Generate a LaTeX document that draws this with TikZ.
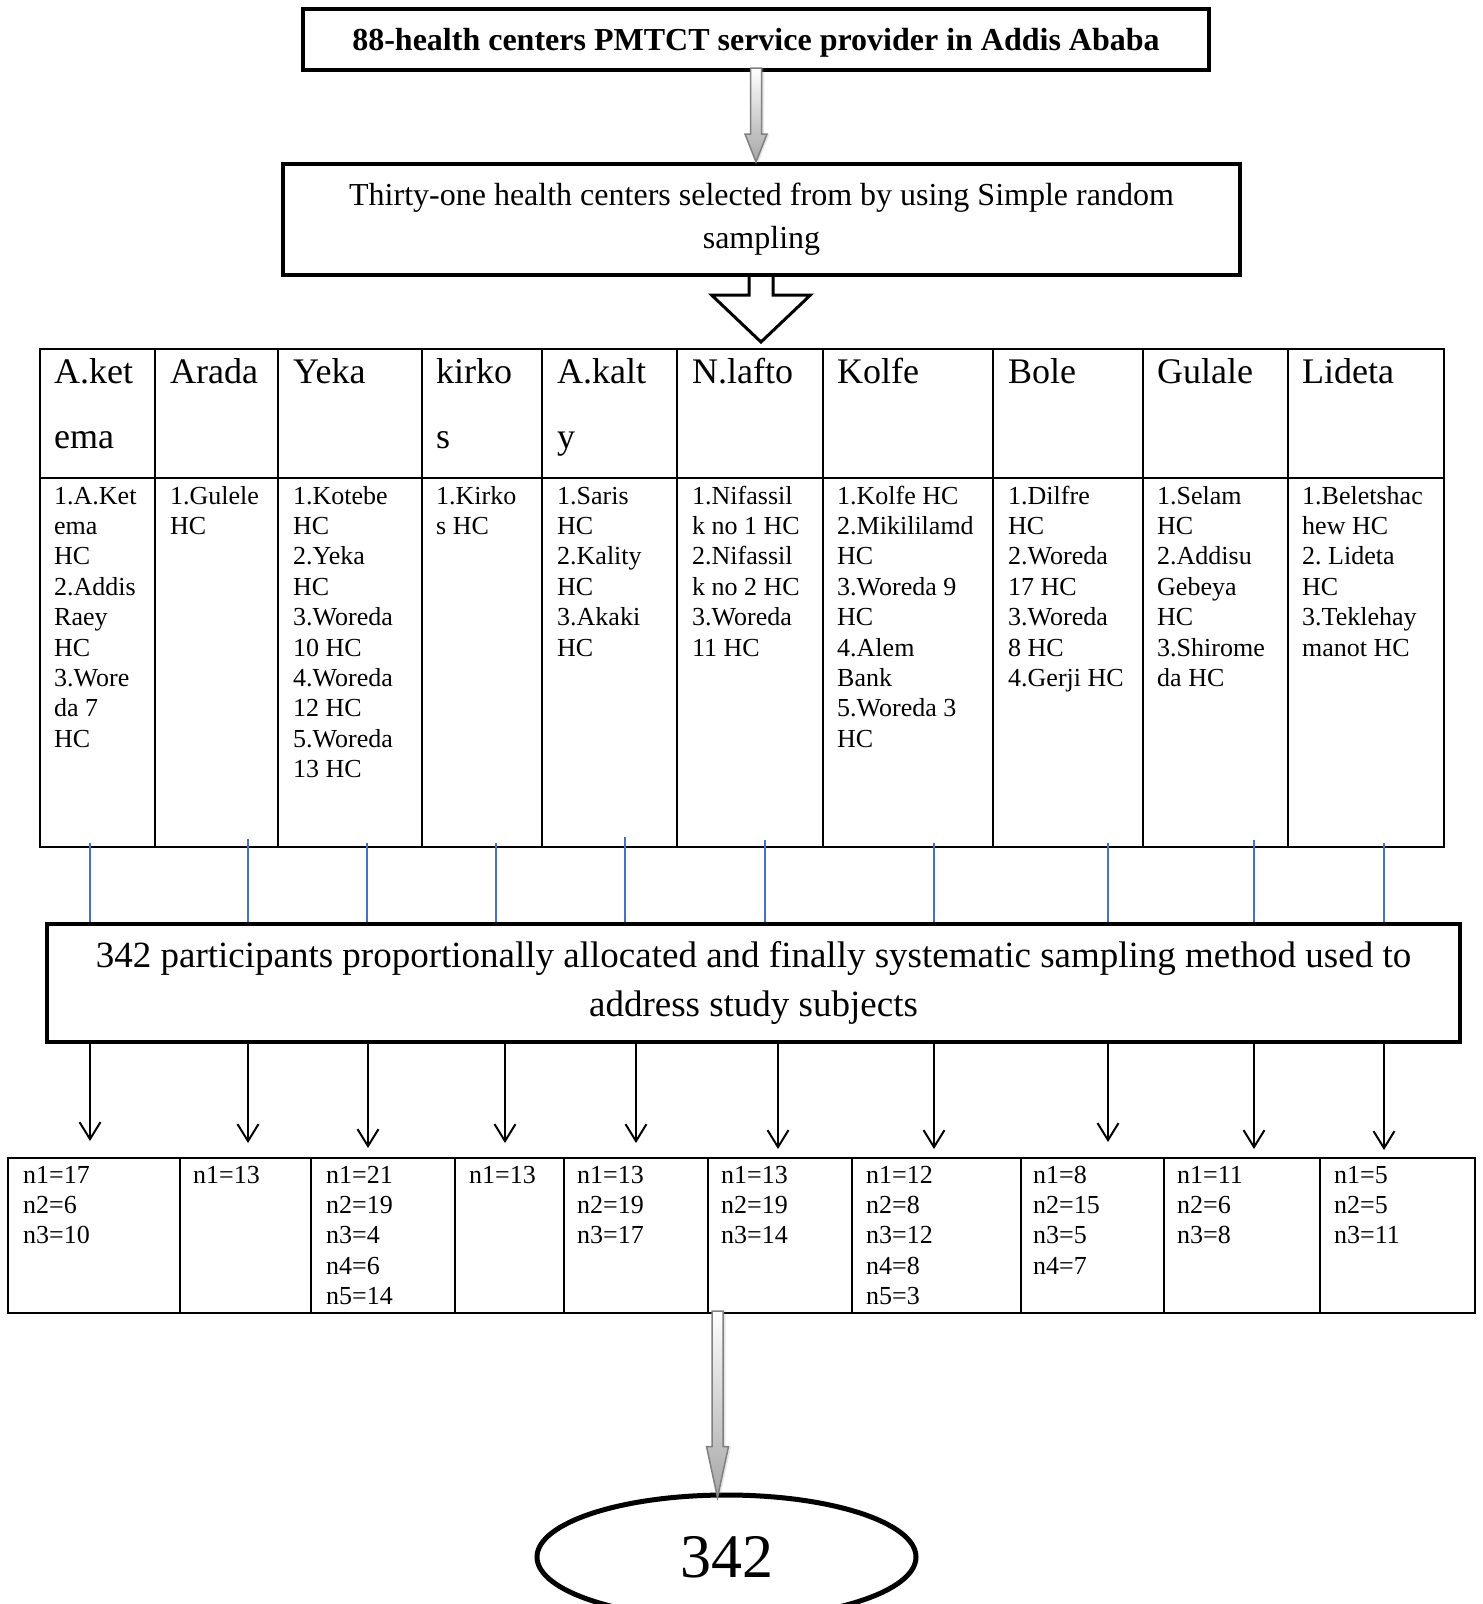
\documentclass[tikz,border=0pt]{standalone}
\usepackage{fontspec}
\setmainfont{Liberation Serif}
\frenchspacing
\usetikzlibrary{calc, arrows.meta, shapes.geometric, shadows}
\definecolor{tickblue}{RGB}{68,114,196}
\tikzstyle{stagebox} = [draw, rectangle, line width=4pt, inner sep=0pt, align=flush center]
\tikzstyle{tabline} = [line width=2pt]
\tikzstyle{arrow} = [line width=2pt, -{Straight Barb[length=17pt,width=21pt]}]
\tikzstyle{blueline} = [line width=1.5pt, draw=tickblue]
\tikzstyle{grayarrow} = [draw=gray, line width=1.5pt, top color=white, bottom color=gray!70, drop shadow={shadow xshift=2.5pt, shadow yshift=0pt, opacity=0.2}]
\tikzstyle{blockarrow} = [draw, line width=3pt, fill=white, line join=miter]
\tikzstyle{hdr} = [anchor=base west, inner sep=0pt, text width=160pt, align=flush left, font=\fontsize{36}{65}\selectfont]
\tikzstyle{hclist} = [anchor=base west, inner sep=0pt, text width=160pt, align=flush left, font=\fontsize{26}{30.4}\selectfont]

\begin{document}
\begin{tikzpicture}[x=1pt, y=-1pt]
    \useasboundingbox (0,0) rectangle (1483,1604);

    % Boxes
    \node[stagebox, font=\bfseries\fontsize{32}{38}\selectfont, text depth=0pt, minimum width=906pt, minimum height=61pt] (pool) at (756,39.5) {88-health centers PMTCT service provider in Addis Ababa};
    \node[stagebox, font=\fontsize{32}{43}\selectfont, text width=900pt, minimum width=957pt, minimum height=111pt] (srs) at (761.5,219.5) {Thirty-one health centers selected from by using Simple random\\ sampling};
    \node[stagebox, line width=4.5pt, font=\fontsize{37}{49}\selectfont, text width=1380pt, minimum width=1413pt, minimum height=118pt] (alloc) at (753.5,983) {342 participants proportionally allocated and finally systematic sampling method used to\\ address study subjects};
    \node[draw, ellipse, line width=5pt, inner sep=0pt, minimum width=379pt, minimum height=124pt, font=\fontsize{62}{62}\selectfont] (total) at (726.5,1557) {342};

    % Sub-cities table
    \draw[tabline] (40,349) rectangle (1444,847);
    \draw[tabline] (40,478) -- (1444,478);
    \draw[tabline] (155,349) -- (155,847) (278,349) -- (278,847) (422,349) -- (422,847)
        (542,349) -- (542,847) (677,349) -- (677,847) (823,349) -- (823,847)
        (993,349) -- (993,847) (1143,349) -- (1143,847) (1288,349) -- (1288,847);

    \node[hdr] (hd1) at (54,383) {A.ket\\ema};
    \node[hdr] (hd2) at (170,383) {Arada};
    \node[hdr] (hd3) at (293,383) {Yeka};
    \node[hdr] (hd4) at (436,383) {kirko\\s};
    \node[hdr] (hd5) at (557,383) {A.kalt\\y};
    \node[hdr] (hd6) at (692,383) {N.lafto};
    \node[hdr] (hd7) at (837,383) {Kolfe};
    \node[hdr] (hd8) at (1008,383) {Bole};
    \node[hdr] (hd9) at (1157,383) {Gulale};
    \node[hdr] (hd10) at (1302,383) {Lideta};

    \node[hclist] (hc1) at (54,504) {1.A.Ket\\ema\\HC\\2.Addis\\Raey\\HC\\3.Wore\\da 7\\HC};
    \node[hclist] (hc2) at (170,504) {1.Gulele\\HC};
    \node[hclist] (hc3) at (293,504) {1.Kotebe\\HC\\2.Yeka\\HC\\3.Woreda\\10 HC\\4.Woreda\\12 HC\\5.Woreda\\13 HC};
    \node[hclist] (hc4) at (436,504) {1.Kirko\\s HC};
    \node[hclist] (hc5) at (557,504) {1.Saris\\HC\\2.Kality\\HC\\3.Akaki\\HC};
    \node[hclist] (hc6) at (692,504) {1.Nifassil\\k no 1 HC\\2.Nifassil\\k no 2 HC\\3.Woreda\\11 HC};
    \node[hclist] (hc7) at (837,504) {1.Kolfe HC\\2.Mikililamd\\HC\\3.Woreda 9\\HC\\4.Alem\\Bank\\5.Woreda 3\\HC};
    \node[hclist] (hc8) at (1008,504) {1.Dilfre\\HC\\2.Woreda\\17 HC\\3.Woreda\\8 HC\\4.Gerji HC};
    \node[hclist] (hc9) at (1157,504) {1.Selam\\HC\\2.Addisu\\Gebeya\\HC\\3.Shirome\\da HC};
    \node[hclist] (hc10) at (1302,504) {1.Beletshac\\hew HC\\2. Lideta\\HC\\3.Teklehay\\manot HC};

    % Sample size table
    \draw[tabline] (8,1158) rectangle (1475,1313);
    \draw[tabline] (180,1158) -- (180,1313) (311,1158) -- (311,1313) (455,1158) -- (455,1313)
        (564,1158) -- (564,1313) (708,1158) -- (708,1313) (852,1158) -- (852,1313)
        (1021,1158) -- (1021,1313) (1164,1158) -- (1164,1313) (1320,1158) -- (1320,1313);

    \node[hclist] (nn1) at (23,1183) {n1=17\\n2=6\\n3=10};
    \node[hclist] (nn2) at (193,1183) {n1=13};
    \node[hclist] (nn3) at (326,1183) {n1=21\\n2=19\\n3=4\\n4=6\\n5=14};
    \node[hclist] (nn4) at (469,1183) {n1=13};
    \node[hclist] (nn5) at (577,1183) {n1=13\\n2=19\\n3=17};
    \node[hclist] (nn6) at (721,1183) {n1=13\\n2=19\\n3=14};
    \node[hclist] (nn7) at (866,1183) {n1=12\\n2=8\\n3=12\\n4=8\\n5=3};
    \node[hclist] (nn8) at (1033,1183) {n1=8\\n2=15\\n3=5\\n4=7};
    \node[hclist] (nn9) at (1177,1183) {n1=11\\n2=6\\n3=8};
    \node[hclist] (nn10) at (1334,1183) {n1=5\\n2=5\\n3=11};

    % Edges
    \draw[grayarrow] ($(pool.south)+(-5.5,-4)$) -- ($(pool.south |- srs.north)+(-5.5,-28)$) -- ++(-5.5,0)
        -- (pool.south |- srs.north) -- ++(11,-28) -- ++(-5.5,0) -- ($(pool.south)+(5.5,-4)$) -- cycle;

    \coordinate (htip) at (761,342);
    \draw[blockarrow] ($(srs.south -| htip)+(-12,0)$) -- ($(htip)+(-12,-47)$) -- ++(-37.5,0) -- (htip)
        -- ++(49.5,-47) -- ++(-37.5,0) -- ($(srs.south -| htip)+(12,0)$);

    \coordinate (u1) at (90,843);   \draw[blueline] (u1) -- (u1 |- alloc.north);
    \coordinate (u2) at (248,839);  \draw[blueline] (u2) -- (u2 |- alloc.north);
    \coordinate (u3) at (367,843);  \draw[blueline] (u3) -- (u3 |- alloc.north);
    \coordinate (u4) at (496,843);  \draw[blueline] (u4) -- (u4 |- alloc.north);
    \coordinate (u5) at (625,837);  \draw[blueline] (u5) -- (u5 |- alloc.north);
    \coordinate (u6) at (765,840);  \draw[blueline] (u6) -- (u6 |- alloc.north);
    \coordinate (u7) at (934,843);  \draw[blueline] (u7) -- (u7 |- alloc.north);
    \coordinate (u8) at (1108,843); \draw[blueline] (u8) -- (u8 |- alloc.north);
    \coordinate (u9) at (1254,840); \draw[blueline] (u9) -- (u9 |- alloc.north);
    \coordinate (u10) at (1384,843); \draw[blueline] (u10) -- (u10 |- alloc.north);

    \coordinate (t1) at (90,1141);   \draw[arrow] (t1 |- alloc.south) -- (t1);
    \coordinate (t2) at (248,1143);  \draw[arrow] (t2 |- alloc.south) -- (t2);
    \coordinate (t3) at (368,1148);  \draw[arrow] (t3 |- alloc.south) -- (t3);
    \coordinate (t4) at (505,1143);  \draw[arrow] (t4 |- alloc.south) -- (t4);
    \coordinate (t5) at (636,1143);  \draw[arrow] (t5 |- alloc.south) -- (t5);
    \coordinate (t6) at (778,1149);  \draw[arrow] (t6 |- alloc.south) -- (t6);
    \coordinate (t7) at (934,1149);  \draw[arrow] (t7 |- alloc.south) -- (t7);
    \coordinate (t8) at (1108,1142); \draw[arrow] (t8 |- alloc.south) -- (t8);
    \coordinate (t9) at (1254,1149); \draw[arrow] (t9 |- alloc.south) -- (t9);
    \coordinate (t10) at (1384,1150); \draw[arrow] (t10 |- alloc.south) -- (t10);

    \coordinate (drop) at (717.5,1311);
    \coordinate (dtip) at ($(drop |- total.north)+(0,5)$);
    \draw[grayarrow] ($(drop)+(-5.5,0)$) -- ($(dtip)+(-5.5,-51)$) -- ++(-5.5,0) -- (dtip)
        -- ++(11,-51) -- ++(-5.5,0) -- ($(drop)+(5.5,0)$) -- cycle;
\end{tikzpicture}
\end{document}
